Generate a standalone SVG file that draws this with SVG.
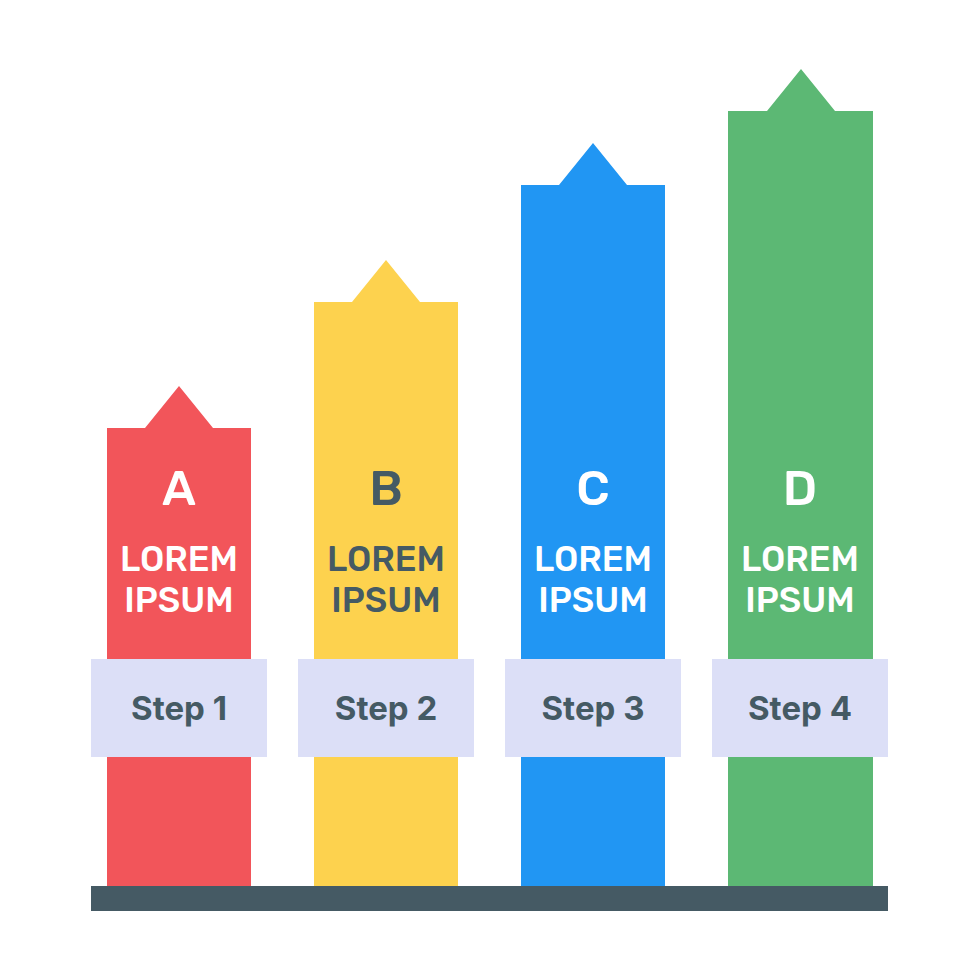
<svg xmlns="http://www.w3.org/2000/svg" width="980" height="980" viewBox="0 0 980 980">
<style>
.lt{font-family:Rubik,"Open Sans","Noto Sans",sans-serif;font-weight:500;text-anchor:middle}
.big{font-size:49px}
.mid{font-size:35px}
.step{font-family:Inter,"Liberation Sans",sans-serif;font-weight:700;text-anchor:middle;font-size:33px;fill:#455A64}
.w{fill:#FFFFFF}
.d{fill:#455A64}
.box{fill:#DCDFF7}
</style>
<rect width="980" height="980" fill="#FFFFFF"/>
<g id="barA">
<path d="M107,886 V428 H145 L179,386 L213,428 H251 V886 Z" fill="#F2555A"/>
<text class="lt big w" x="179" y="505">A</text>
<text class="lt mid w" x="179" y="571">LOREM</text>
<text class="lt mid w" x="179" y="612">IPSUM</text>
<rect class="box" x="91" y="659" width="176" height="98"/>
<text class="step" x="179" y="720">Step 1</text>
</g>
<g id="barB">
<path d="M314,886 V302 H352 L386,260 L420,302 H458 V886 Z" fill="#FDD24E"/>
<text class="lt big d" x="386" y="505">B</text>
<text class="lt mid d" x="386" y="571">LOREM</text>
<text class="lt mid d" x="386" y="612">IPSUM</text>
<rect class="box" x="298" y="659" width="176" height="98"/>
<text class="step" x="386" y="720">Step 2</text>
</g>
<g id="barC">
<path d="M521,886 V185 H559 L593,143 L627,185 H665 V886 Z" fill="#2196F3"/>
<text class="lt big w" x="593" y="505">C</text>
<text class="lt mid w" x="593" y="571">LOREM</text>
<text class="lt mid w" x="593" y="612">IPSUM</text>
<rect class="box" x="505" y="659" width="176" height="98"/>
<text class="step" x="593" y="720">Step 3</text>
</g>
<g id="barD">
<path d="M728,886 V111 H767 L801,69 L835,111 H873 V886 Z" fill="#5CB874"/>
<text class="lt big w" x="800" y="505">D</text>
<text class="lt mid w" x="800" y="571">LOREM</text>
<text class="lt mid w" x="800" y="612">IPSUM</text>
<rect class="box" x="712" y="659" width="176" height="98"/>
<text class="step" x="800" y="720">Step 4</text>
</g>
<g id="connectors"></g>
<g id="base">
<rect x="91" y="886" width="797" height="25" fill="#455A64"/>
</g>
</svg>
